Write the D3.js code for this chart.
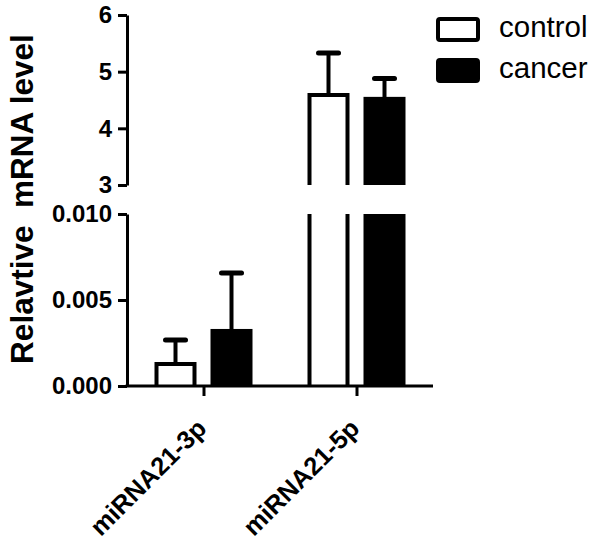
<!DOCTYPE html>
<html>
<head>
<meta charset="utf-8">
<script src="https://cdn.jsdelivr.net/npm/d3@7"></script>
<style>
  body { margin: 0; background: #fff; }
  svg { display: block; font-family: Arial, "Liberation Sans", sans-serif; }
</style>
</head>
<body>
<div id="vis"></div>
<script>
// data
const categories = ["miRNA21-3p", "miRNA21-5p"];
const groups = ["control", "cancer"];
const controlMean = [0.00128, 4.59];
const controlErr = [0.00139, 0.74];
const cancerMean = [0.0032, 4.52];
const cancerErr = [0.00337, 0.36];
const upperTicks = [3, 4, 5, 6];
const lowerTicks = [0, 0.005, 0.010];

const width = 600, height = 547;
const axisX = 127, axisRight = 433;

const svg = d3.select("#vis").append("svg")
  .attr("width", width)
  .attr("height", height);

// broken y axis: two linear pieces
const yUpper = d3.scaleLinear().domain([3, 6]).range([185, 15]);
const yLower = d3.scaleLinear().domain([0, 0.010]).range([386, 214]);

const x = d3.scalePoint().domain(categories).range([axisX, axisRight]).padding(0.5);
const xSub = d3.scaleBand().domain(groups).range([-49, 49]).paddingInner(0.25);

const rows = [];
categories.forEach((c, i) => {
  rows.push({cat: c, grp: "control", mean: controlMean[i], err: controlErr[i]});
  rows.push({cat: c, grp: "cancer", mean: cancerMean[i], err: cancerErr[i]});
});

const sw = 4;
const bars = svg.append("g");

// draw a bar piece in one axis segment; open edges where it is clipped
function drawPiece(d, scale, lo, hi) {
  const v = d.mean;
  if (v <= lo) return;
  const top = Math.min(v, hi);
  const x0 = x(d.cat) + xSub(d.grp) + sw / 2;
  const x1 = x0 + xSub.bandwidth() - sw;
  const yb = scale(lo), yt = scale(top);
  const filled = d.grp === "cancer";
  bars.append("rect")
    .attr("x", x0 - sw / 2).attr("width", x1 - x0 + sw)
    .attr("y", v > hi ? yt : yt - sw / 2)
    .attr("height", yb - yt + (v > hi ? 0 : sw / 2))
    .attr("fill", filled ? "#000" : "#fff");
  if (!filled) {
    let p = `M${x0},${yb}V${yt}`;
    if (v <= hi) p += `H${x1}`; else p += `M${x1},${yt}`;
    p += `V${yb}`;
    bars.append("path").attr("d", p)
      .attr("fill", "none").attr("stroke", "#000").attr("stroke-width", sw);
  }
  if (v <= hi) {
    // error bar (upper only)
    const cx = (x0 + x1) / 2;
    const ye = scale(v + d.err);
    bars.append("line").attr("x1", cx).attr("x2", cx)
      .attr("y1", yt).attr("y2", ye)
      .attr("stroke", "#000").attr("stroke-width", sw);
    bars.append("line").attr("x1", cx - 10).attr("x2", cx + 10)
      .attr("y1", ye).attr("y2", ye)
      .attr("stroke", "#000").attr("stroke-width", sw + 1)
      .attr("stroke-linecap", "round");
  }
}

rows.forEach(d => {
  drawPiece(d, yLower, 0, 0.010);
  drawPiece(d, yUpper, 3, 6);
});

// y axes
function styleAxis(g) {
  g.select(".domain").attr("stroke-width", 3);
  g.selectAll(".tick line").attr("stroke-width", 3);
  g.selectAll(".tick text").attr("font-size", 24).attr("font-weight", "bold")
    .attr("fill", "#000");
}

svg.append("g").attr("transform", `translate(${axisX},0)`)
  .call(d3.axisLeft(yUpper).tickValues(upperTicks).tickFormat(d3.format("d"))
    .tickSizeInner(9).tickSizeOuter(0).tickPadding(6))
  .call(styleAxis);

svg.append("g").attr("transform", `translate(${axisX},0)`)
  .call(d3.axisLeft(yLower).tickValues(lowerTicks).tickFormat(d3.format(".3f"))
    .tickSizeInner(9).tickSizeOuter(0).tickPadding(6))
  .call(styleAxis);

// x axis
const xAxis = svg.append("g").attr("transform", `translate(0,386)`)
  .call(d3.axisBottom(x).tickSizeInner(10).tickSizeOuter(0).tickPadding(4));
xAxis.select(".domain").attr("stroke-width", 3).attr("d", `M${axisX - 1.5},0H${axisRight}`);
xAxis.selectAll(".tick line").attr("stroke-width", 3);
xAxis.selectAll(".tick text")
  .attr("font-size", 25.5).attr("font-weight", "bold").attr("fill", "#000")
  .attr("text-anchor", "end")
  .attr("dy", 0)
  .attr("transform", "translate(4,44) rotate(-45)")
  .attr("y", 0).attr("x", 0);

// y title
svg.append("text")
  .attr("transform", "translate(33,199) rotate(-90)")
  .attr("text-anchor", "middle")
  .attr("font-size", 31.5).attr("font-weight", "bold")
  .attr("xml:space", "preserve")
  .text("Relavtive  mRNA level");

// legend
const legend = svg.append("g");
groups.forEach((gname, i) => {
  const y0 = 19 + i * 41;
  legend.append("rect")
    .attr("x", 438).attr("y", y0)
    .attr("width", 40).attr("height", 21)
    .attr("rx", 2)
    .attr("fill", gname === "cancer" ? "#000" : "#fff")
    .attr("stroke", "#000").attr("stroke-width", 4);
  legend.append("text")
    .attr("x", 499).attr("y", y0 + 18)
    .attr("font-size", 29.5)
    .text(gname);
});
</script>
</body>
</html>
